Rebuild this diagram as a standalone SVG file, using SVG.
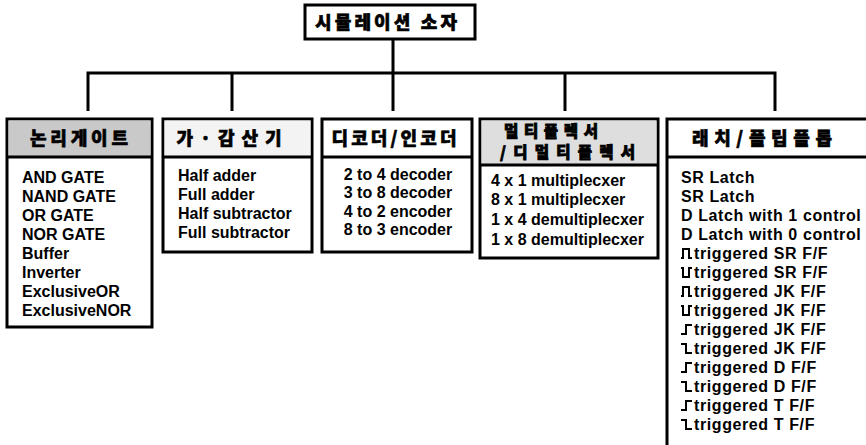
<svg xmlns="http://www.w3.org/2000/svg" width="866" height="445" viewBox="0 0 866 445">
<style>
.box{fill:#fff;stroke:#000;stroke-width:3}
.hd{stroke:#000;stroke-width:3}
.conn{fill:none;stroke:#000;stroke-width:3}
.t{font-family:"Liberation Sans",Arial,sans-serif;font-weight:bold;font-size:16px;fill:#000}
.w{letter-spacing:0.6px}
.k{font-family:"Noto Sans CJK KR","Noto Sans",sans-serif;font-weight:900;font-size:18px;fill:#000;stroke:#000;stroke-width:0.6px}
.k2{font-size:15.5px;stroke-width:0.8px}
.ic{fill:none;stroke:#000;stroke-width:2}
</style>
<defs>
<path id="pp" class="ic" d="M0,-1 H2 V-10 H8 V-1 H11"/>
<path id="np" class="ic" d="M0,-10 H2 V-1 H8 V-10 H11"/>
<path id="re" class="ic" d="M0,-1 H5 V-10 H11"/>
<path id="fe" class="ic" d="M0,-10 H5 V-1 H11"/>
</defs>
<rect width="866" height="445" fill="#fff"/>
<g id="connectors">
<path class="conn" d="M393,39 V111"/>
<path class="conn" d="M88,111 V73 H775 V111"/>
<path class="conn" d="M232,73 V111"/>
<path class="conn" d="M565,73 V111"/>
</g>
<g id="root">
<rect class="box" x="305" y="5" width="170" height="34"/>
<text class="k" x="386" y="29" text-anchor="middle" textLength="142" lengthAdjust="spacing">시뮬레이션 소자</text>
</g>
<g id="logic-gate">
<rect class="box" x="7" y="119" width="145" height="208"/>
<rect x="8.5" y="120.5" width="142" height="36" fill="#c9c9c9"/>
<line class="hd" x1="7" y1="157" x2="152" y2="157"/>
<text class="k" x="79" y="145" text-anchor="middle" textLength="98" lengthAdjust="spacing">논리게이트</text>
<text class="t" x="22" y="183">AND GATE</text>
<text class="t" x="22" y="202">NAND GATE</text>
<text class="t" x="22" y="221">OR GATE</text>
<text class="t" x="22" y="240">NOR GATE</text>
<text class="t" x="22" y="259">Buffer</text>
<text class="t" x="22" y="278">Inverter</text>
<text class="t" x="22" y="297">ExclusiveOR</text>
<text class="t" x="22" y="316">ExclusiveNOR</text>
</g>
<g id="adder-subtractor">
<rect class="box" x="163" y="119" width="149" height="133"/>
<rect x="164.5" y="120.5" width="146" height="36" fill="#f3f3f3"/>
<line class="hd" x1="163" y1="157" x2="312" y2="157"/>
<text class="k" x="229" y="145" text-anchor="middle" textLength="105" lengthAdjust="spacing">가·감산기</text>
<text class="t" x="178" y="181">Half adder</text>
<text class="t" x="178" y="200">Full adder</text>
<text class="t" x="178" y="219">Half subtractor</text>
<text class="t" x="178" y="238">Full subtractor</text>
</g>
<g id="decoder-encoder">
<rect class="box" x="322" y="119" width="150" height="133"/>
<line class="hd" x1="322" y1="157" x2="472" y2="157"/>
<text class="k" x="394" y="145" text-anchor="middle" textLength="125" lengthAdjust="spacing">디코더/인코더</text>
<text class="t" x="398" y="180" text-anchor="middle">2 to 4 decoder</text>
<text class="t" x="398" y="198" text-anchor="middle">3 to 8 decoder</text>
<text class="t" x="398" y="217" text-anchor="middle">4 to 2 encoder</text>
<text class="t" x="398" y="235" text-anchor="middle">8 to 3 encoder</text>
</g>
<g id="mux-demux">
<rect class="box" x="480" y="119" width="178" height="139"/>
<rect x="481.5" y="120.5" width="175" height="44" fill="#dedede"/>
<line class="hd" x1="480" y1="165" x2="658" y2="165"/>
<text class="k k2" x="504" y="137" textLength="94" lengthAdjust="spacing">멀티플렉서</text>
<text class="k k2" x="500" y="158" textLength="135" lengthAdjust="spacing">/디멀티플렉서</text>
<text class="t" x="491" y="186">4 x 1 multiplecxer</text>
<text class="t" x="491" y="205">8 x 1 multiplecxer</text>
<text class="t" x="491" y="225">1 x 4 demultiplecxer</text>
<text class="t" x="491" y="245">1 x 8 demultiplecxer</text>
</g>
<g id="latch-flipflop">
<path class="conn" d="M866,119 H667 V445"/>
<line class="hd" x1="667" y1="157" x2="866" y2="157"/>
<text class="k" x="762" y="145" text-anchor="middle" textLength="140" lengthAdjust="spacing">래치/플립플롭</text>
<text class="t w" x="681" y="183">SR Latch</text>
<text class="t w" x="681" y="202">SR Latch</text>
<text class="t w" x="681" y="221">D Latch with 1 control</text>
<text class="t w" x="681" y="240">D Latch with 0 control</text>
<use href="#pp" x="681" y="259"/><text class="t w" x="694" y="259">triggered SR F/F</text>
<use href="#np" x="681" y="278"/><text class="t w" x="694" y="278">triggered SR F/F</text>
<use href="#pp" x="681" y="297"/><text class="t w" x="694" y="297">triggered JK F/F</text>
<use href="#np" x="681" y="316"/><text class="t w" x="694" y="316">triggered JK F/F</text>
<use href="#re" x="681" y="335"/><text class="t w" x="694" y="335">triggered JK F/F</text>
<use href="#fe" x="681" y="354"/><text class="t w" x="694" y="354">triggered JK F/F</text>
<use href="#re" x="681" y="373"/><text class="t w" x="694" y="373">triggered D F/F</text>
<use href="#fe" x="681" y="392"/><text class="t w" x="694" y="392">triggered D F/F</text>
<use href="#re" x="681" y="411"/><text class="t w" x="694" y="411">triggered T F/F</text>
<use href="#fe" x="681" y="430"/><text class="t w" x="694" y="430">triggered T F/F</text>
</g>
</svg>
